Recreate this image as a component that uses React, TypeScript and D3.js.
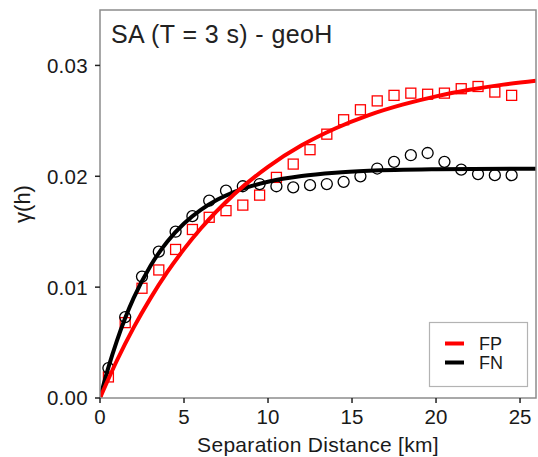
import React from "react";
import * as d3 from "d3";

// Empirical semivariogram points (separation distance in km)
const binDist = [0.5, 1.5, 2.5, 3.5, 4.5, 5.5, 6.5, 7.5, 8.5, 9.5, 10.5, 11.5, 12.5, 13.5, 14.5, 15.5, 16.5, 17.5, 18.5, 19.5, 20.5, 21.5, 22.5, 23.5, 24.5];
const fpPoints = [0.0019, 0.0068, 0.0099, 0.01155, 0.0134, 0.0152, 0.0163, 0.0169, 0.0174, 0.0183, 0.0199, 0.0211, 0.0224, 0.0238, 0.0251, 0.026, 0.0268, 0.0273, 0.0275, 0.0274, 0.0275, 0.0279, 0.0281, 0.0276, 0.0273];
const fnPoints = [0.0027, 0.0073, 0.01095, 0.0132, 0.015, 0.0164, 0.0178, 0.0187, 0.0191, 0.0193, 0.0191, 0.019, 0.0192, 0.0193, 0.0195, 0.02, 0.0207, 0.0213, 0.0219, 0.0221, 0.0213, 0.0206, 0.0202, 0.0201, 0.0201];

// Fitted model curves
const fpCurveX = [0, 1, 2, 3, 4, 5, 6, 8, 10, 12, 14, 16, 18, 20, 22, 24, 25.95];
const fpCurveY = [0, 0.00336, 0.00635, 0.00899, 0.01135, 0.01343, 0.01529, 0.0184, 0.02085, 0.02279, 0.02431, 0.02552, 0.02646, 0.02721, 0.0278, 0.02827, 0.02862];
const fnCurveX = [0, 0.5, 1, 1.5, 2, 3, 4, 5, 6, 7, 8, 10, 12, 14, 16, 20, 25.95];
const fnCurveY = [0, 0.00276, 0.00514, 0.00722, 0.00901, 0.01191, 0.0141, 0.01574, 0.01697, 0.0179, 0.0186, 0.01951, 0.02003, 0.02032, 0.02049, 0.02063, 0.02069];

const xTicks = [0, 5, 10, 15, 20, 25];
const yTicks = [0, 0.01, 0.02, 0.03];
const yTickLabels = ["0.00", "0.01", "0.02", "0.03"];
const seriesNames = ["FP", "FN"];
const seriesColors = ["#ff0000", "#000000"];

const W = 538;
const H = 457;
const L = 100, R = 536, T = 10, B = 398;
const FONT = "'Liberation Sans', Arial, Helvetica, sans-serif";

export default function App() {
  const x = d3.scaleLinear().domain([0, 25.95]).range([L, R]);
  const y = d3.scaleLinear().domain([0, 0.035]).range([B, T]);
  const line = d3
    .line<[number, number]>()
    .x((d) => x(d[0]))
    .y((d) => y(d[1]))
    .curve(d3.curveMonotoneX);
  const fpCurve = line(fpCurveX.map((v, i) => [v, fpCurveY[i]] as [number, number])) || "";
  const fnCurve = line(fnCurveX.map((v, i) => [v, fnCurveY[i]] as [number, number])) || "";

  return (
    <svg
      width={W}
      height={H}
      style={{ position: "absolute", left: 0, top: 0, background: "#fff" }}
      fontFamily={FONT}
    >
      <defs>
        <clipPath id="panel">
          <rect x={L} y={T} width={R - L} height={B - T} />
        </clipPath>
      </defs>
      <rect x={0} y={0} width={W} height={H} fill="#fff" />

      {/* points */}
      <g>
        {binDist.map((d, i) => (
          <rect
            key={"fp" + i}
            x={x(d) - 5}
            y={y(fpPoints[i]) - 5}
            width={10}
            height={10}
            fill="none"
            stroke={seriesColors[0]}
            strokeWidth={1.3}
          />
        ))}
        {binDist.map((d, i) => (
          <circle
            key={"fn" + i}
            cx={x(d)}
            cy={y(fnPoints[i])}
            r={5.5}
            fill="none"
            stroke={seriesColors[1]}
            strokeWidth={1.3}
          />
        ))}
      </g>

      {/* curves */}
      <g clipPath="url(#panel)">
        <path d={fnCurve} fill="none" stroke={seriesColors[1]} strokeWidth={4} />
        <path d={fpCurve} fill="none" stroke={seriesColors[0]} strokeWidth={4} />
      </g>

      {/* panel border */}
      <rect x={L} y={T} width={R - L} height={B - T} fill="none" stroke="#8c8c8c" strokeWidth={1.5} />

      {/* title */}
      <text x={111} y={43} fontSize={25} fill="#222" letterSpacing={0.4}>
        SA (T = 3 s) - geoH
      </text>

      {/* y axis */}
      {yTicks.map((t, i) => (
        <g key={"yt" + i}>
          <line x1={L - 5} x2={L} y1={y(t)} y2={y(t)} stroke="#222" strokeWidth={1.5} />
          <text x={L - 12} y={y(t)} dy="0.36em" textAnchor="end" fontSize={20.5} fill="#1a1a1a" letterSpacing={0.3}>
            {yTickLabels[i]}
          </text>
        </g>
      ))}

      {/* x axis */}
      {xTicks.map((t, i) => (
        <g key={"xt" + i}>
          <line x1={x(t)} x2={x(t)} y1={B} y2={B + 5} stroke="#222" strokeWidth={1.5} />
          <text x={x(t)} y={424} textAnchor="middle" fontSize={20.5} fill="#1a1a1a">
            {String(t)}
          </text>
        </g>
      ))}

      <text x={(L + R) / 2} y={451.5} textAnchor="middle" fontSize={21} fill="#1a1a1a" letterSpacing={0.3}>
        Separation Distance [km]
      </text>
      <text
        transform={`translate(30, ${(T + B) / 2}) rotate(-90)`}
        textAnchor="middle"
        fontSize={22}
        fill="#1a1a1a"
      >
        γ(h)
      </text>

      {/* legend */}
      <g>
        <rect x={429.5} y={322.5} width={98} height={64} fill="#fff" stroke="#b3b3b3" strokeWidth={1.2} />
        {seriesNames.map((n, i) => (
          <g key={"lg" + i}>
            <line
              x1={445}
              x2={464}
              y1={343.5 + i * 19}
              y2={343.5 + i * 19}
              stroke={seriesColors[i]}
              strokeWidth={4}
            />
            <text x={479} y={343.5 + i * 19} dy="0.36em" fontSize={18} fill="#1a1a1a">
              {n}
            </text>
          </g>
        ))}
      </g>
    </svg>
  );
}
